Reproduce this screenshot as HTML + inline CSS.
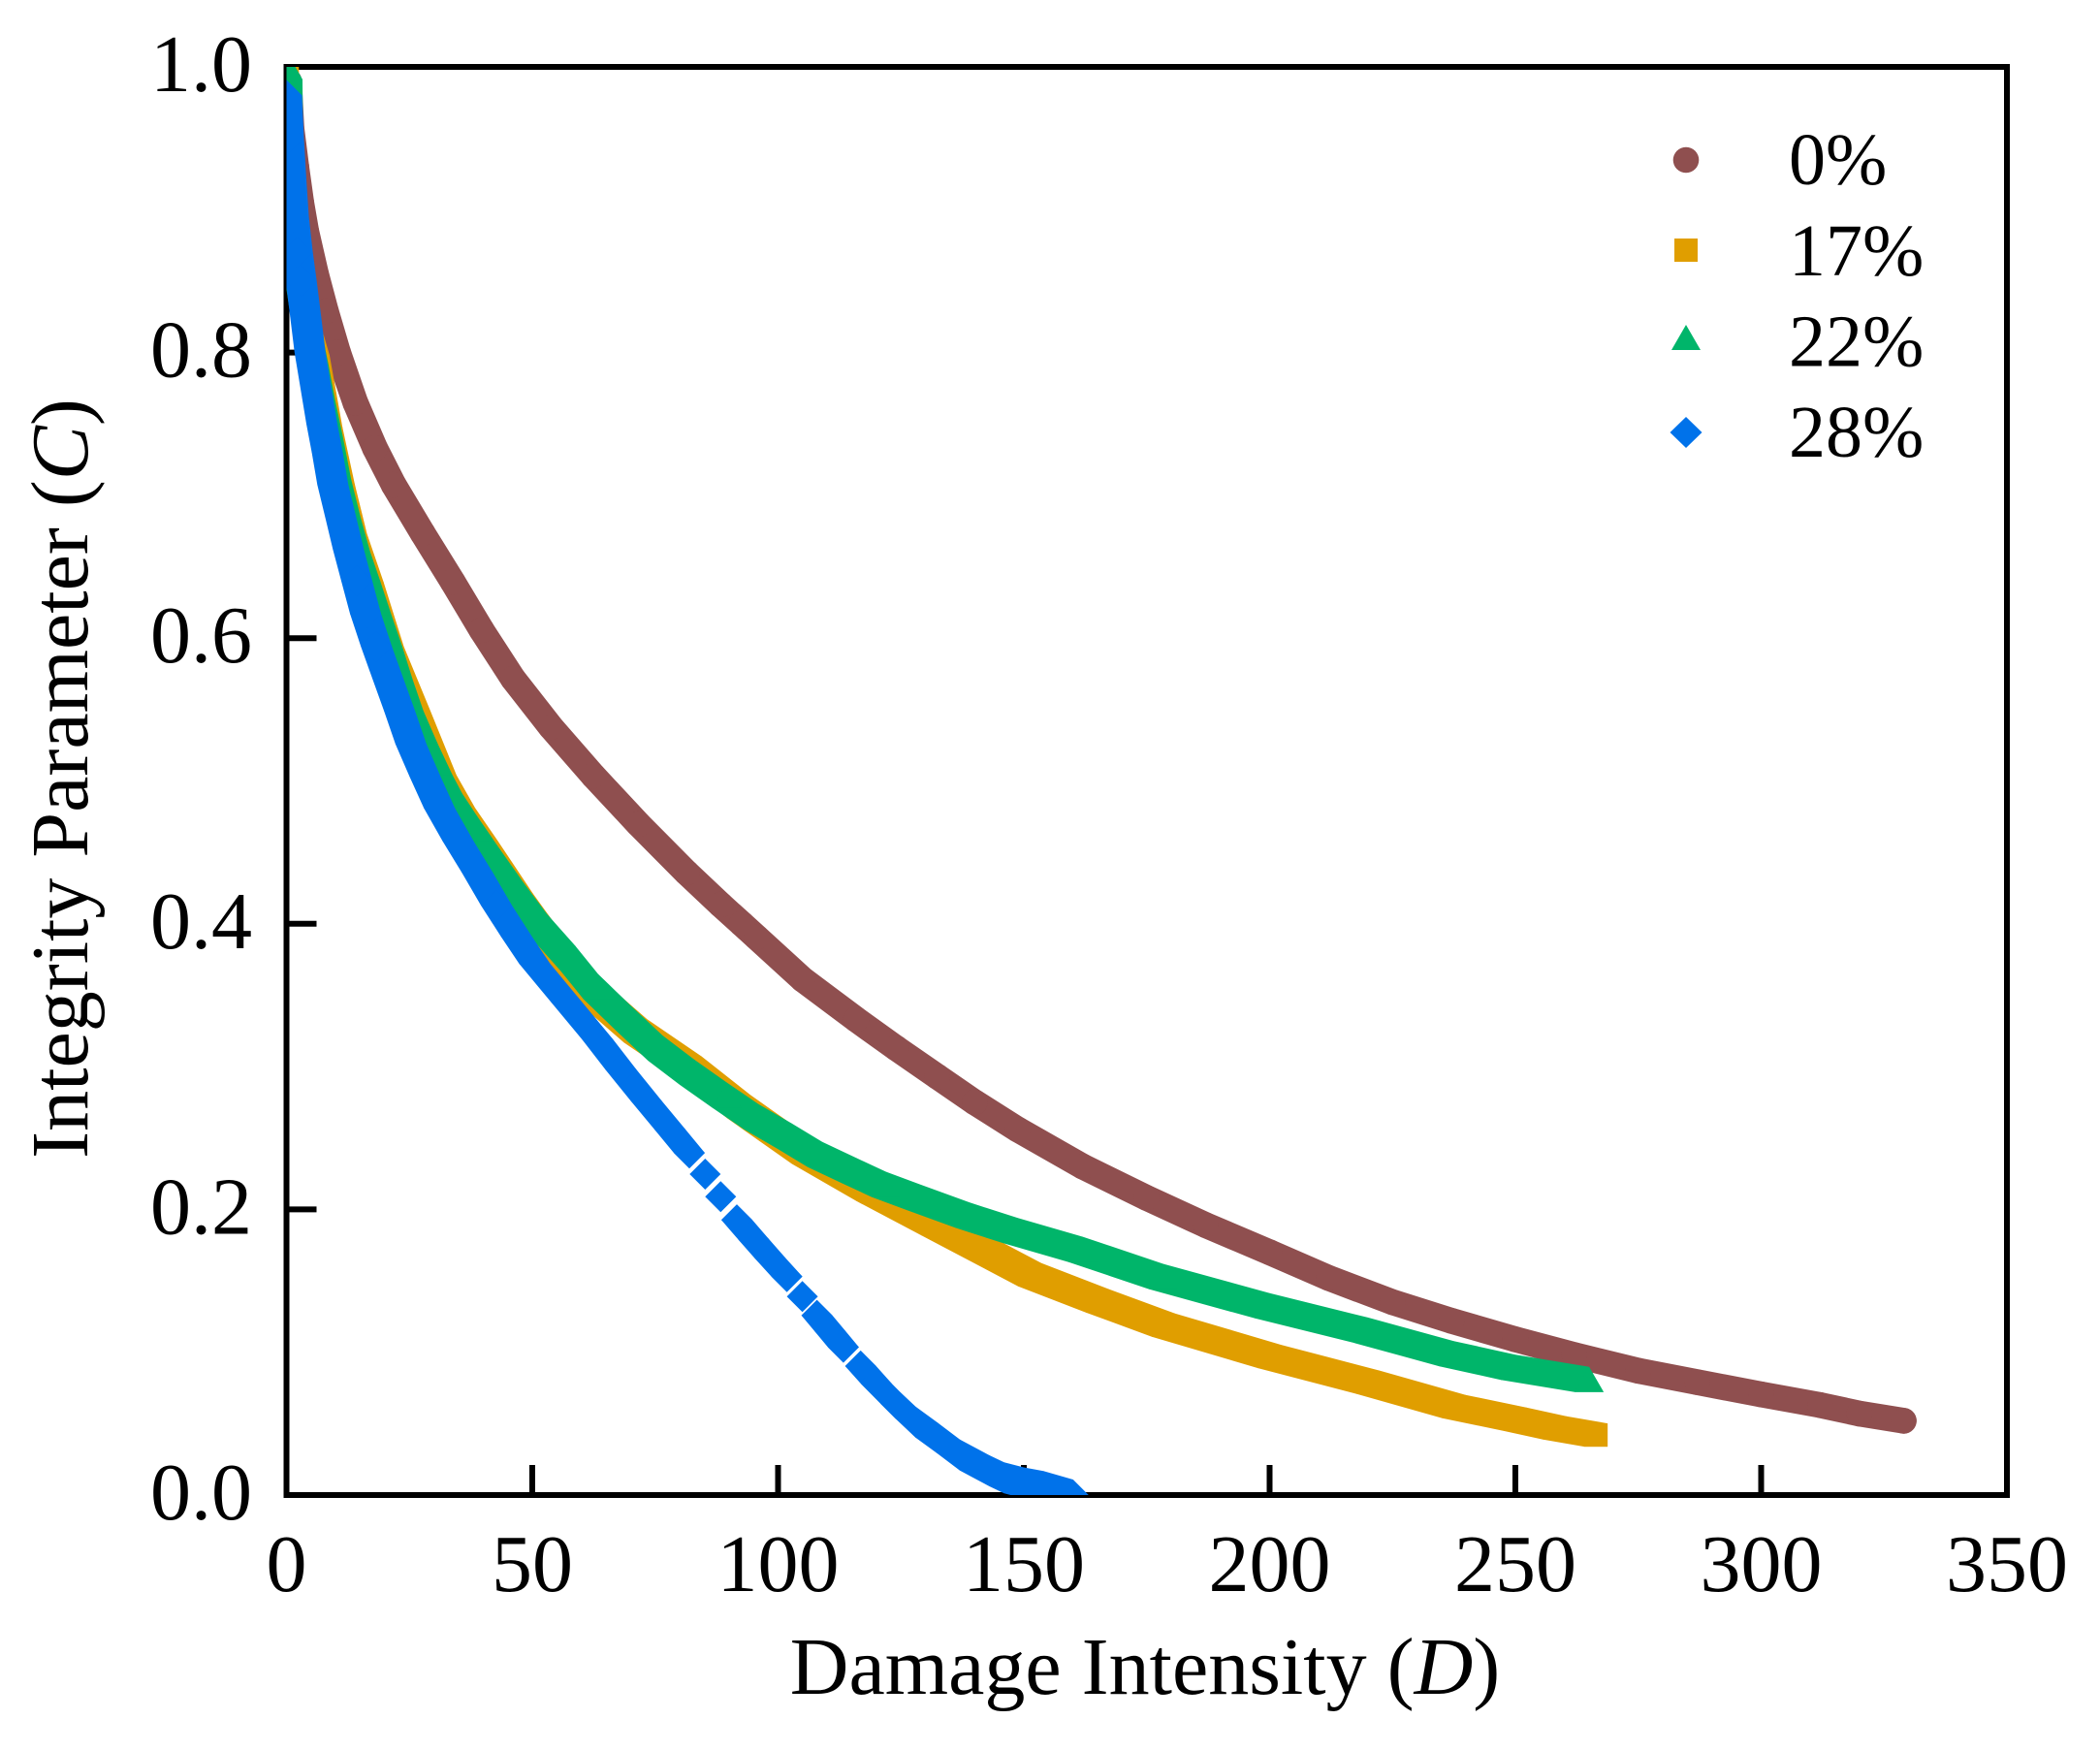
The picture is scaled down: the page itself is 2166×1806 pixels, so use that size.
<!DOCTYPE html>
<html lang="en">
<head>
<meta charset="utf-8">
<title>Integrity Parameter vs Damage Intensity</title>
<style>
  html, body { margin: 0; padding: 0; background: #ffffff; }
  svg { display: block; }
  text { font-family: "Liberation Serif", "Times New Roman", serif; fill: #000; }
</style>
</head>
<body>
<svg id="chart" xmlns="http://www.w3.org/2000/svg" width="2166" height="1806" viewBox="0 0 2166 1806">
  <rect x="0" y="0" width="2166" height="1806" fill="#ffffff"/>
  <defs>
    <clipPath id="plot-clip"><rect x="295.5" y="69" width="1774.5" height="1473"/></clipPath>
  </defs>
  <g id="ticks"></g>
  <rect x="295.5" y="69" width="1774.5" height="1473" fill="none" stroke="#000" stroke-width="6"/>
  <g id="tick-labels" font-size="84"></g>
  <g id="series" clip-path="url(#plot-clip)"></g>
  <text x="1181" y="1747" font-size="84" text-anchor="middle">Damage Intensity (<tspan font-style="italic">D</tspan>)</text>
  <text transform="translate(90 803) rotate(-90)" font-size="84" text-anchor="middle">Integrity Parameter (<tspan font-style="italic">C</tspan>)</text>
  <g font-size="76">
    <circle cx="1739" cy="165" r="13.3" fill="#8F4F4F"/>
    <text x="1845" y="190">0%</text>
    <rect x="1727" y="246" width="24" height="24" fill="#E09E00"/>
    <text x="1845" y="284">17%</text>
    <polygon points="1739,335 1754,361 1724,361" fill="#00B56A"/>
    <text x="1845" y="377.5">22%</text>
    <polygon points="1739,430 1755.5,446 1739,462 1722.5,446" fill="#0072EA"/>
    <text x="1845" y="471">28%</text>
  </g>
</svg>
<script>
const xTickValues = [0, 50, 100, 150, 200, 250, 300, 350];
const yTickValues = [0.0, 0.2, 0.4, 0.6, 0.8, 1.0];

const damage0 = [0.5, 1, 2, 3, 4, 6, 8, 10.5, 14, 18, 21.8, 27.7, 33.8, 39.7, 46.1, 53.8, 62.4, 71.6, 81.4, 88.3, 92.6, 95.6, 105, 115.9, 124, 132.4, 140, 148.8, 162, 175, 187, 200, 212, 225, 237, 250, 262, 275, 287, 300, 312, 320, 329];
const integrity0 = [0.99, 0.957, 0.93, 0.905, 0.885, 0.855, 0.829, 0.8, 0.765, 0.733, 0.7074, 0.6735, 0.6395, 0.6056, 0.5716, 0.5377, 0.5037, 0.4698, 0.4358, 0.4134, 0.4, 0.3906, 0.361, 0.333, 0.313, 0.293, 0.275, 0.2559, 0.23, 0.208, 0.189, 0.17, 0.152, 0.135, 0.122, 0.109, 0.098, 0.087, 0.079, 0.0705, 0.063, 0.057, 0.052];

const damage17 = [0.1, 0.4, 0.9, 1.6, 2.6, 3.5, 4.7, 6.4, 9, 11.5, 14, 17.4, 21.5, 26.9, 32.2, 36, 40.6, 47.8, 50.5, 55, 61, 71, 82.1, 92, 105.2, 118.3, 131.5, 151.2, 165, 178.4, 200, 220, 237.5, 250, 258, 266.4];
const integrity17 = [1.0, 0.95, 0.91, 0.875, 0.85, 0.83, 0.81, 0.79, 0.74, 0.7, 0.665, 0.631, 0.586, 0.541, 0.496, 0.473, 0.45, 0.413, 0.4, 0.379, 0.355, 0.325, 0.299, 0.272, 0.24, 0.214, 0.19, 0.1543, 0.136, 0.119, 0.097, 0.079, 0.062, 0.053, 0.047, 0.042];

const damage22 = [0.3, 0.4, 0.8, 1.3, 2.2, 3.3, 4.4, 5.6, 6.9, 8.5, 10.2, 12.07, 14, 16.2, 18.4, 20.6, 22.7, 24.9, 27.8, 30.8, 34.5, 38.7, 43.3, 48.2, 53, 58.7, 63.4, 70, 76.5, 83, 89.6, 96, 102.8, 109, 115.9, 122, 129.1, 139, 148.8, 162, 178.4, 200, 220, 237.5, 250, 265];
const integrity22 = [1.0, 0.96, 0.93, 0.9, 0.87, 0.845, 0.82, 0.8, 0.776, 0.75, 0.72, 0.694, 0.67, 0.648, 0.625, 0.603, 0.58, 0.558, 0.535, 0.513, 0.489, 0.467, 0.444, 0.42, 0.398, 0.376, 0.356, 0.334, 0.313, 0.296, 0.28, 0.265, 0.2514, 0.2385, 0.2272, 0.2175, 0.2084, 0.196, 0.1851, 0.172, 0.153, 0.1325, 0.1155, 0.099, 0.0895, 0.081];

const damage28 = [0, 0.4, 0.9, 1.4, 2.2, 3, 3.9, 4.8, 6, 7.2, 8.3, 9.43, 11, 12.6, 14.3, 16.1, 18.3, 20.6, 23, 25.3, 28.2, 31.1, 34.9, 38.8, 42.7, 46.8, 50.5, 57, 63.3, 68, 73.2, 78, 81.95, 85.17, 88.33, 91.62, 95.03, 98.38, 101.8, 104.96, 107.9, 110.6, 113.3, 116.8, 120, 124, 128, 132.4, 137, 143, 146, 150, 154, 160];
const integrity28 = [0.98, 0.95, 0.92, 0.895, 0.87, 0.85, 0.825, 0.8, 0.775, 0.75, 0.73, 0.7074, 0.685, 0.662, 0.64, 0.617, 0.594, 0.572, 0.549, 0.526, 0.503, 0.481, 0.458, 0.436, 0.413, 0.391, 0.372, 0.345, 0.319, 0.298, 0.276, 0.256, 0.2396, 0.2247, 0.2089, 0.1926, 0.179, 0.1659, 0.153, 0.139, 0.1258, 0.1147, 0.1035, 0.0903, 0.078, 0.064, 0.051, 0.04, 0.028, 0.017, 0.012, 0.0085, 0.006, 0.0];
const gapAfterDamage28 = [81.95, 85.17, 88.33, 101.8, 104.96, 113.3];

const X_LEFT = 295.5, X_RIGHT = 2070, Y_TOP = 69, Y_BOTTOM = 1542;
const X_MAX = 350, Y_MAX = 1;
function sx(d) { return X_LEFT + (d / X_MAX) * (X_RIGHT - X_LEFT); }
function sy(c) { return Y_BOTTOM - (c / Y_MAX) * (Y_BOTTOM - Y_TOP); }

const NS = 'http://www.w3.org/2000/svg';
function make(tag, geometry, parent) {
  const node = document.createElementNS(NS, tag);
  for (const key in geometry) node.setAttribute(key, geometry[key]);
  parent.appendChild(node);
  return node;
}

const tickGroup = document.getElementById('ticks');
const labelGroup = document.getElementById('tick-labels');
const TICK_LEN = 31;

xTickValues.forEach(function (v) {
  if (v > 0 && v < X_MAX) {
    const t = make('line', { x1: sx(v), x2: sx(v), y1: Y_BOTTOM, y2: Y_BOTTOM - TICK_LEN, stroke: '#000', 'stroke-width': 6 }, tickGroup);
    
    
  }
  const l = make('text', { x: sx(v), y: 1641, 'text-anchor': 'middle' }, labelGroup);
  l.textContent = String(v);
  
  
});

yTickValues.forEach(function (v) {
  if (v > 0 && v < Y_MAX) {
    const t = make('line', { x1: X_LEFT, x2: X_LEFT + TICK_LEN, y1: sy(v), y2: sy(v), stroke: '#000', 'stroke-width': 6 }, tickGroup);
    
    
  }
  const l = make('text', { x: 260, y: sy(v) + 25, 'text-anchor': 'end' }, labelGroup);
  l.textContent = v.toFixed(1);
  
  
});

const seriesGroup = document.getElementById('series');

/* The dense scatter reads as a band: the marker outline swept from one data point to the next. */
function sweepPath(xs, ys, outline, gaps) {
  let d = '';
  for (let i = 0; i + 1 < xs.length; i++) {
    if (gaps.indexOf(xs[i]) !== -1) continue;
    const x0 = sx(xs[i]), y0 = sy(ys[i]), x1 = sx(xs[i + 1]), y1 = sy(ys[i + 1]);
    for (let k = 0; k < outline.length; k++) {
      const a = outline[k], b = outline[(k + 1) % outline.length];
      let quad = [[x0 + a[0], y0 + a[1]], [x0 + b[0], y0 + b[1]], [x1 + b[0], y1 + b[1]], [x1 + a[0], y1 + a[1]]];
      let area = 0;
      for (let q = 0; q < 4; q++) {
        const u = quad[q], w = quad[(q + 1) % 4];
        area += u[0] * w[1] - w[0] * u[1];
      }
      if (area < 0) quad = quad.reverse();
      d += 'M' + quad.map(function (p) { return p[0].toFixed(1) + ' ' + p[1].toFixed(1); }).join('L') + 'Z';
    }
  }
  return d;
}

function drawSweep(xs, ys, color, outline, gaps, name) {
  const band = make('path', { d: sweepPath(xs, ys, outline, gaps), fill: color, 'fill-rule': 'nonzero' }, seriesGroup);
  
  
}

function drawOutlineMarkers(xs, ys, color, outline, name) {
  xs.forEach(function (d, i) {
    const x = sx(d), y = sy(ys[i]);
    const p = outline.map(function (v) { return (x + v[0]).toFixed(1) + ',' + (y + v[1]).toFixed(1); }).join(' ');
    const m = make('polygon', { points: p, fill: color }, seriesGroup);
    
    
  });
}

function drawRoundBand(xs, ys, color, r, name) {
  const pts = xs.map(function (d, i) { return sx(d).toFixed(1) + ',' + sy(ys[i]).toFixed(1); }).join(' ');
  const band = make('polyline', { points: pts, fill: 'none', stroke: color, 'stroke-width': r * 2, 'stroke-linejoin': 'round', 'stroke-linecap': 'round' }, seriesGroup);
  
  
  xs.forEach(function (d, i) {
    const m = make('circle', { cx: sx(d), cy: sy(ys[i]), r: r, fill: color }, seriesGroup);
    
    
  });
}

const squareOutline = [[-12, -12], [12, -12], [12, 12], [-12, 12]];
const triangleOutline = [[0, -13], [15, 13], [-15, 13]];
const diamondOutline = [[0, -16], [16, 0], [0, 16], [-16, 0]];

drawRoundBand(damage0, integrity0, '#8F4F4F', 13.3, 'series-0-percent');

drawSweep(damage17, integrity17, '#E09E00', squareOutline, [], 'series-17-percent-band');
drawOutlineMarkers(damage17, integrity17, '#E09E00', squareOutline, 'series-17-percent-point');

drawSweep(damage22, integrity22, '#00B56A', triangleOutline, [], 'series-22-percent-band');
drawOutlineMarkers(damage22, integrity22, '#00B56A', triangleOutline, 'series-22-percent-point');

drawSweep(damage28, integrity28, '#0072EA', diamondOutline, gapAfterDamage28, 'series-28-percent-band');
drawOutlineMarkers(damage28, integrity28, '#0072EA', diamondOutline, 'series-28-percent-point');
</script>
</body>
</html>
